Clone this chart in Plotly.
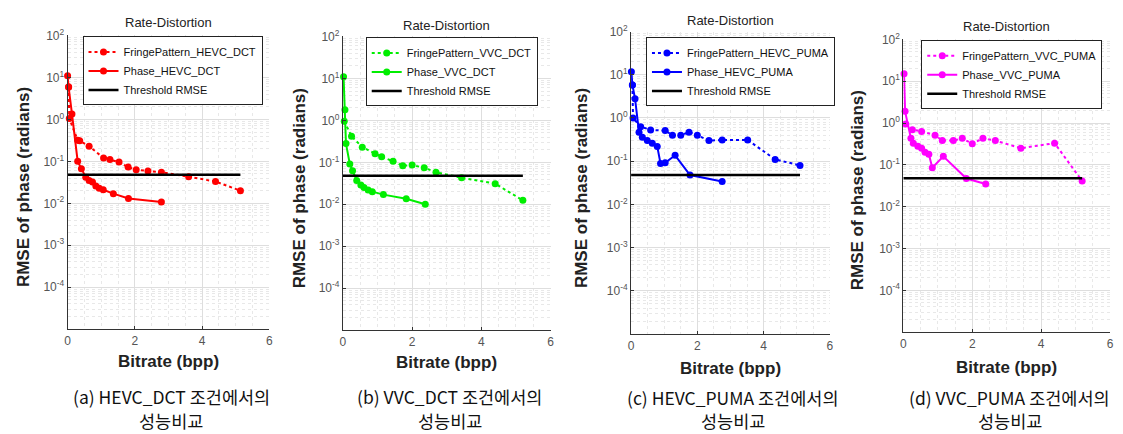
import plotly.graph_objects as go

# ---------------- data ----------------
hevc_dct_fringe_bpp = [0.03, 0.05, 0.30, 0.36, 0.64, 1.07, 1.26, 1.53, 1.80, 2.04, 2.39, 2.79, 3.60, 4.40, 5.14]
hevc_dct_fringe_rmse = [5.9, 1.05, 0.32, 0.31, 0.23, 0.12, 0.11, 0.096, 0.073, 0.063, 0.059, 0.055, 0.043, 0.033, 0.020]
hevc_dct_phase_bpp = [0.0, 0.03, 0.13, 0.30, 0.41, 0.54, 0.64, 0.74, 0.84, 0.94, 1.06, 1.36, 1.81, 2.79]
hevc_dct_phase_rmse = [11.0, 5.9, 1.35, 0.10, 0.067, 0.042, 0.035, 0.032, 0.026, 0.023, 0.021, 0.017, 0.013, 0.0107]

vvc_dct_fringe_bpp = [0.04, 0.25, 0.56, 0.93, 1.12, 1.45, 1.73, 2.00, 2.35, 2.69, 3.43, 4.40, 5.20]
vvc_dct_fringe_rmse = [0.95, 0.42, 0.23, 0.16, 0.136, 0.106, 0.083, 0.086, 0.074, 0.058, 0.043, 0.031, 0.0124]
vvc_dct_phase_bpp = [0.02, 0.06, 0.09, 0.20, 0.28, 0.40, 0.52, 0.61, 0.73, 0.85, 1.17, 1.83, 2.38]
vvc_dct_phase_rmse = [11.0, 1.8, 0.28, 0.091, 0.063, 0.037, 0.029, 0.025, 0.022, 0.020, 0.017, 0.0135, 0.010]

hevc_puma_fringe_bpp = [0.04, 0.06, 0.29, 0.59, 1.03, 1.25, 1.50, 1.75, 2.00, 2.35, 2.75, 3.52, 4.35, 5.10]
hevc_puma_fringe_rmse = [5.8, 1.0, 0.63, 0.53, 0.51, 0.40, 0.40, 0.47, 0.40, 0.30, 0.31, 0.31, 0.11, 0.08]
hevc_puma_phase_bpp = [0.01, 0.04, 0.12, 0.24, 0.34, 0.49, 0.64, 0.79, 0.89, 1.03, 1.33, 1.78, 2.75]
hevc_puma_phase_rmse = [11.7, 5.8, 2.8, 0.47, 0.36, 0.30, 0.26, 0.22, 0.088, 0.092, 0.137, 0.048, 0.034]

vvc_puma_fringe_bpp = [0.07, 0.26, 0.53, 0.92, 1.13, 1.45, 1.71, 2.00, 2.31, 2.67, 3.41, 4.39, 5.19]
vvc_puma_fringe_rmse = [0.95, 0.69, 0.63, 0.51, 0.38, 0.38, 0.43, 0.32, 0.43, 0.38, 0.25, 0.33, 0.041]
vvc_puma_phase_bpp = [0.02, 0.05, 0.22, 0.29, 0.42, 0.53, 0.63, 0.74, 0.84, 1.16, 1.83, 2.39]
vvc_puma_phase_rmse = [15.0, 1.9, 0.43, 0.33, 0.28, 0.25, 0.20, 0.18, 0.085, 0.16, 0.047, 0.035]

threshold_rmse = 0.048

conditions = ["HEVC_DCT", "VVC_DCT", "HEVC_PUMA", "VVC_PUMA"]
panel_letters = ["a", "b", "c", "d"]
series_colors = ["#ff0000", "#00ee00", "#0000ff", "#ff00ff"]

x_tick_vals = [0, 2, 4, 6]
x_tick_text = ["0", "2", "4", "6"]
y_tick_vals = [1e-4, 1e-3, 1e-2, 1e-1, 1e0, 1e1, 1e2]
y_tick_text = ["10<sup>-4</sup>", "10<sup>-3</sup>", "10<sup>-2</sup>", "10<sup>-1</sup>",
               "10<sup>0</sup>", "10<sup>1</sup>", "10<sup>2</sup>"]

fringe_bpp = [hevc_dct_fringe_bpp, vvc_dct_fringe_bpp, hevc_puma_fringe_bpp, vvc_puma_fringe_bpp]
fringe_rmse = [hevc_dct_fringe_rmse, vvc_dct_fringe_rmse, hevc_puma_fringe_rmse, vvc_puma_fringe_rmse]
phase_bpp = [hevc_dct_phase_bpp, vvc_dct_phase_bpp, hevc_puma_phase_bpp, vvc_puma_phase_bpp]
phase_rmse = [hevc_dct_phase_rmse, vvc_dct_phase_rmse, hevc_puma_phase_rmse, vvc_puma_phase_rmse]

# ---------------- layout geometry (pixels) ----------------
W, H = 1123, 434
# (left, right, top, bottom) of each plot area
boxes = [(65, 268, 27, 327), (342, 551, 28, 328), (632, 832, 23, 332), (906, 1114, 31, 330)]
legend_pos = [(80, 28), (365, 29), (647, 29), (924, 32)]
ylabel_x = [20, 298, 582, 860]
title_y = [14, 17, 12, 18]
xlabel_y = [360, 361, 367, 366]
caption_y = [(396, 420), (396, 420), (397, 420), (397, 420)]

def px(x):
    return x / W

def py(y):
    return 1 - y / H

fig = go.Figure()
layout = dict(
    width=W, height=H, margin=dict(l=0, r=0, t=0, b=0),
    paper_bgcolor="white", plot_bgcolor="white", showlegend=True,
    font=dict(family="Liberation Sans, Arial, sans-serif", color="#222"),
)
annotations = []

label_font = dict(family="Liberation Sans, Arial, sans-serif", size=17, color="#222", weight="bold")
cap_font = dict(family="Noto Sans CJK KR, sans-serif", size=17.5, color="#111")

for i in range(4):
    n = "" if i == 0 else str(i + 1)
    xa, ya = "x" + n, "y" + n
    leg = "legend" + n
    col = series_colors[i]
    l, r, t, b = boxes[i]

    fig.add_trace(go.Scatter(
        x=fringe_bpp[i], y=fringe_rmse[i], xaxis=xa, yaxis=ya, legend=leg,
        name="FringePattern_" + conditions[i], mode="lines+markers",
        line=dict(color=col, width=2, dash="dot"),
        marker=dict(color=col, size=7), cliponaxis=False))
    fig.add_trace(go.Scatter(
        x=phase_bpp[i], y=phase_rmse[i], xaxis=xa, yaxis=ya, legend=leg,
        name="Phase_" + conditions[i], mode="lines+markers",
        line=dict(color=col, width=2),
        marker=dict(color=col, size=7), cliponaxis=False))
    thr_x = [0, max(fringe_bpp[i])]
    fig.add_trace(go.Scatter(
        x=thr_x, y=[threshold_rmse] * len(thr_x), xaxis=xa, yaxis=ya, legend=leg,
        name="Threshold RMSE", mode="lines",
        line=dict(color="black", width=2.5), cliponaxis=False))

    layout["xaxis" + n] = dict(
        domain=[px(l), px(r)], anchor=ya, range=[0, 6],
        tickmode="array", tickvals=x_tick_vals, ticktext=x_tick_text,
        ticks="inside", ticklen=3, tickcolor="#333",
        showline=True, linecolor="#333", linewidth=1, mirror=False,
        showgrid=True, gridcolor="#dedede", gridwidth=1, zeroline=False,
        tickfont=dict(size=12, color="#555"),
        minor=dict(dtick=0.5, showgrid=True, gridcolor="#e8e8e8", griddash="dot", ticks=""),
    )
    layout["yaxis" + n] = dict(
        domain=[py(b), py(t)], anchor=xa, type="log", range=[-5, 2],
        tickmode="array", tickvals=y_tick_vals, ticktext=y_tick_text,
        ticks="inside", ticklen=3, tickcolor="#333",
        showline=True, linecolor="#333", linewidth=1, mirror=False,
        showgrid=True, gridcolor="#dedede", gridwidth=1, zeroline=False,
        tickfont=dict(size=12, color="#555"),
        minor=dict(dtick="D1", showgrid=True, gridcolor="#e8e8e8", griddash="dot", ticks=""),
    )
    lx, lyy = legend_pos[i]
    layout[leg] = dict(
        x=px(lx), y=py(lyy), xanchor="left", yanchor="top",
        bgcolor="white", bordercolor="#222", borderwidth=1,
        font=dict(size=11, color="#111", family="Liberation Sans, Arial, sans-serif"),
        itemwidth=30, tracegroupgap=0, traceorder="normal",
    )
    cx = (l + r) / 2
    annotations.append(dict(text="Rate-Distortion", x=px(cx), y=py(title_y[i]), xref="paper", yref="paper",
                            showarrow=False, xanchor="center", yanchor="middle",
                            font=dict(size=13, color="#222")))
    annotations.append(dict(text="Bitrate (bpp)", x=px(cx), y=py(xlabel_y[i]), xref="paper", yref="paper",
                            showarrow=False, xanchor="center", yanchor="middle", font=label_font))
    annotations.append(dict(text="RMSE of phase (radians)", x=px(ylabel_x[i]), y=py((t + b) / 2 + 5),
                            xref="paper", yref="paper", textangle=-90,
                            showarrow=False, xanchor="center", yanchor="middle", font=label_font))
    c1, c2 = caption_y[i]
    annotations.append(dict(text="(" + panel_letters[i] + ") " + conditions[i] + " 조건에서의",
                            x=px(cx + 3), y=py(c1), xref="paper", yref="paper",
                            showarrow=False, xanchor="center", yanchor="middle", font=cap_font))
    annotations.append(dict(text="성능비교", x=px(cx + 3), y=py(c2), xref="paper", yref="paper",
                            showarrow=False, xanchor="center", yanchor="middle", font=cap_font))

layout["annotations"] = annotations
fig.update_layout(**layout)
fig.write_html("out.html")
